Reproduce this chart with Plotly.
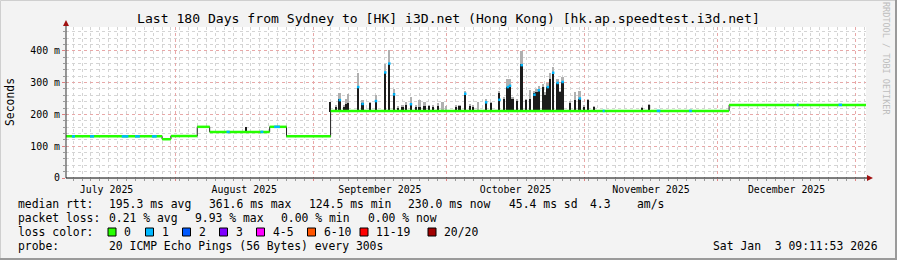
import plotly.graph_objects as go
import pandas as pd

# ---------------- data ----------------
START = "2025-07-07 09:11:53"
END = "2026-01-03 09:11:53"

# median rtt (ms) as steps: value holds from this date until the next one
step_starts = ["2025-07-07 09:11", "2025-07-29 00:00", "2025-07-31 00:00",
               "2025-08-05 22:00", "2025-08-08 17:00", "2025-08-22 05:00",
               "2025-08-26 00:00", "2025-09-04 22:00", "2025-12-03 14:00"]
step_values = [131, 122, 132, 161, 145, 161, 131, 211, 230]

# short stretches of the median drawn with loss colour "1"
blue_starts = ["2025-07-08 17:00", "2025-07-12 19:00", "2025-07-19 22:00", "2025-07-22 22:00",
               "2025-07-26 17:00", "2025-08-12 12:00", "2025-08-20 03:00", "2025-08-23 05:00",
               "2025-11-05 03:00", "2025-11-17 07:00", "2025-11-24 14:00", "2025-12-18 19:00",
               "2025-12-28 05:00"]
blue_ends = ["2025-07-09 10:00", "2025-07-13 17:00", "2025-07-21 10:00", "2025-07-24 00:00",
             "2025-07-27 19:00", "2025-08-13 05:00", "2025-08-20 19:00", "2025-08-24 12:00",
             "2025-11-05 14:00", "2025-11-18 03:00", "2025-11-25 05:00", "2025-12-19 05:00",
             "2025-12-29 00:00"]
blue_values = [131, 131, 131, 131, 131, 145, 145, 161, 211, 211, 211, 230, 230]

# smoke spikes: date, top of dark smoke, top of light smoke, median (loss 1) or None
spike_dates = ["2025-08-17 00:00", "2025-09-04 22:00", "2025-09-06 03:00", "2025-09-07 00:00",
               "2025-09-07 22:00", "2025-09-08 10:00", "2025-09-08 22:00", "2025-09-11 03:00",
               "2025-09-12 03:00", "2025-09-13 22:00", "2025-09-15 03:00", "2025-09-17 05:00",
               "2025-09-18 03:00", "2025-09-19 05:00", "2025-09-20 03:00", "2025-09-21 03:00",
               "2025-09-22 00:00", "2025-09-23 00:00", "2025-09-24 03:00", "2025-09-25 00:00",
               "2025-09-26 03:00", "2025-09-27 03:00", "2025-09-28 00:00", "2025-09-29 03:00",
               "2025-09-30 03:00", "2025-10-01 00:00", "2025-10-03 03:00", "2025-10-04 00:00",
               "2025-10-05 05:00", "2025-10-06 07:00", "2025-10-07 00:00", "2025-10-08 03:00",
               "2025-10-09 22:00", "2025-10-11 00:00", "2025-10-12 22:00", "2025-10-13 22:00",
               "2025-10-14 19:00", "2025-10-15 07:00", "2025-10-15 22:00", "2025-10-16 22:00",
               "2025-10-17 22:00", "2025-10-18 22:00", "2025-10-19 19:00", "2025-10-20 19:00",
               "2025-10-21 07:00", "2025-10-21 19:00", "2025-10-22 17:00", "2025-10-23 07:00",
               "2025-10-23 19:00", "2025-10-24 10:00", "2025-10-25 00:00", "2025-10-26 00:00",
               "2025-10-26 12:00", "2025-10-27 03:00", "2025-10-28 22:00", "2025-10-30 00:00",
               "2025-10-31 00:00", "2025-11-01 00:00", "2025-11-01 23:00", "2025-11-03 05:00",
               "2025-11-14 00:00", "2025-11-15 14:00"]
spike_dark = [160, 239, 224, 247, 224, 232, 235, 286, 237, 235, 245, 334, 362, 266, 220, 224,
              230, 237, 224, 224, 228, 226, 224, 226, 215, 215, 224, 226, 266, 228, 224, 215,
              240, 235, 266, 250, 286, 290, 250, 243, 358, 245, 248, 266, 271, 276, 286, 260,
              286, 310, 331, 299, 270, 302, 237, 245, 250, 224, 245, 224, 220, 229]
spike_light = [160, 239, 230, 266, 230, 250, 265, 330, 245, 240, 260, 358, 404, 280, 226, 230,
               240, 255, 230, 245, 240, 230, 228, 235, 240, 226, 228, 230, 275, 232, 228, 240,
               250, 240, 275, 255, 313, 310, 255, 250, 399, 250, 278, 275, 280, 290, 295, 270,
               300, 330, 350, 310, 275, 318, 240, 270, 275, 228, 250, 226, 222, 232]
spike_median = [None, None, None, 245, None, None, None, 286, 233, None, 242, 332, 360, 263, None,
                None, None, 232, None, None, None, None, None, None, None, None, None, None, 265,
                None, None, None, 238, None, 246, None, 286, 290, None, None, 355, None, None, 262,
                None, 276, None, None, 286, None, 331, 299, None, 302, None, None, 250, None, None,
                None, None, None]

y_tickvals = [0, 100, 200, 300, 400]
y_ticktext = ["0", "100 m", "200 m", "300 m", "400 m"]

loss_labels = ["0", "1", "2", "3", "4-5", "6-10", "11-19", "20/20"]
loss_colors = ["#26ff00", "#00b8ff", "#0059ff", "#7e00ff", "#ff00ff", "#ff5500", "#ff0000", "#a10000"]

stats_rtt = ["195.3 ms avg", "361.6 ms max", "124.5 ms min", "230.0 ms now", "45.4 ms sd", "4.3", "am/s"]
stats_loss = ["0.21 % avg", "9.93 % max", "0.00 % min", "0.00 % now"]

TITLE = "Last 180 Days from Sydney to [HK] i3D.net (Hong Kong) [hk.ap.speedtest.i3d.net]"
PROBE = "20 ICMP Echo Pings (56 Bytes) every 300s"
STAMP = "Sat Jan  3 09:11:53 2026"

# ---------------- geometry helpers (pixels -> paper) ----------------
W, H = 897, 260
PL, PR, PT, PB = 66, 866, 27, 178


def px(x):
    return (x - PL) / (PR - PL)


def py(y):
    return (PB - y) / (PB - PT)


MONO = "DejaVu Sans Mono"

fig = go.Figure()

steps = pd.to_datetime(step_starts)
end_ts = pd.Timestamp(END)

# step connectors (smoke at transitions) in black
cx, cy = [], []
for i in range(len(steps)):
    cx.append(steps[i]); cy.append(step_values[i])
    nxt = steps[i + 1] if i + 1 < len(steps) else end_ts
    cx.append(nxt); cy.append(step_values[i])
fig.add_trace(go.Scatter(x=cx, y=cy, mode="lines", line=dict(color="#222222", width=1),
                         hoverinfo="skip", showlegend=False))

# spike smoke
sd = pd.to_datetime(spike_dates)


def median_at(t):
    v = step_values[0]
    for s, val in zip(steps, step_values):
        if t >= s:
            v = val
    return v


bases = [median_at(t) - 3 for t in sd]
bw = 0.4 * 86400000
fig.add_trace(go.Bar(x=sd, y=[l - d for l, d in zip(spike_light, spike_dark)], base=spike_dark,
                     width=bw, marker=dict(color="#b0b0b0", line=dict(width=0)),
                     hoverinfo="skip", showlegend=False))
fig.add_trace(go.Bar(x=sd, y=[d - b for d, b in zip(spike_dark, bases)], base=bases,
                     width=bw, marker=dict(color="#1c1c1c", line=dict(width=0)),
                     hoverinfo="skip", showlegend=False))

# median green horizontal segments
gx, gy = [], []
for i in range(len(steps)):
    nxt = steps[i + 1] if i + 1 < len(steps) else end_ts
    gx += [steps[i], nxt, None]
    gy += [step_values[i], step_values[i], None]
fig.add_trace(go.Scatter(x=gx, y=gy, mode="lines", line=dict(color=loss_colors[0], width=2.5),
                         hoverinfo="skip", showlegend=False))

# blue stretches
bx, by = [], []
for s, e, v in zip(blue_starts, blue_ends, blue_values):
    bx += [pd.Timestamp(s), pd.Timestamp(e), None]
    by += [v, v, None]
fig.add_trace(go.Scatter(x=bx, y=by, mode="lines", line=dict(color=loss_colors[1], width=2.5),
                         hoverinfo="skip", showlegend=False))

# spike medians
mx = [t for t, m in zip(sd, spike_median) if m is not None]
my = [m for m in spike_median if m is not None]
fig.add_trace(go.Scatter(x=mx, y=my, mode="markers",
                         marker=dict(color=loss_colors[1], symbol="square", size=2.5, line=dict(width=0)),
                         hoverinfo="skip", showlegend=False))

# ---------------- layout ----------------
ann = []


def text(x, y, s, size=11.4, anchor="left", color="#000000", angle=0):
    ann.append(dict(xref="paper", yref="paper", x=px(x), y=py(y), text=s, showarrow=False,
                    xanchor=anchor, yanchor="middle", textangle=angle,
                    font=dict(family=MONO, size=size, color=color)))


text(448, 19, TITLE, size=13.1, anchor="center")
text(10, 102, "Seconds", size=11.4, anchor="center", angle=-90)
text(886, 59, "RRDTOOL / TOBI OETIKER", size=8.5, anchor="center", color="#bdbdbd", angle=90)

row1, row2, row3, row4 = 204, 218, 232, 246
text(16, row1, "median rtt:")
for s, x in zip(stats_rtt, [107, 207, 307, 406, 507, 588, 635]):
    text(x, row1, s)
text(16, row2, "packet loss:")
for s, x in zip(stats_loss, [107, 193, 279, 366]):
    text(x, row2, s)
text(16, row3, "loss color:")
shapes = []
box_x = [108, 145.5, 182.5, 219.5, 256.5, 307.5, 360, 428]
for lab, col, x in zip(loss_labels, loss_colors, box_x):
    shapes.append(dict(type="rect", xref="paper", yref="paper", x0=px(x), x1=px(x + 8),
                       y0=py(row3 + 4), y1=py(row3 - 4), fillcolor=col,
                       line=dict(color="#000000", width=1)))
    text(x + 14, row3, lab)
text(16, row4, "probe:")
text(107, row4, PROBE)
text(880, row4, STAMP, anchor="right")

# axis arrows
shapes.append(dict(type="path", xref="paper", yref="paper",
                   path=f"M {px(63)} {py(26)} L {px(69)} {py(26)} L {px(66)} {py(20)} Z",
                   fillcolor="#a01010", line=dict(width=0)))
shapes.append(dict(type="line", xref="paper", yref="paper", x0=px(66), x1=px(66), y0=py(178), y1=py(26),
                   line=dict(color="#333333", width=1)))
shapes.append(dict(type="line", xref="paper", yref="paper", x0=px(66), x1=px(868), y0=py(178), y1=py(178),
                   line=dict(color="#000000", width=1)))
shapes.append(dict(type="path", xref="paper", yref="paper",
                   path=f"M {px(867)} {py(175)} L {px(867)} {py(181)} L {px(873)} {py(178)} Z",
                   fillcolor="#a01010", line=dict(width=0)))
# frame
shapes.append(dict(type="rect", xref="paper", yref="paper", x0=px(0.5), x1=px(896), y0=py(259), y1=py(0.5),
                   line=dict(color="#cfcfcf", width=1), fillcolor="rgba(0,0,0,0)", layer="below"))
shapes.append(dict(type="line", xref="paper", yref="paper", x0=px(896), x1=px(896), y0=py(0), y1=py(260),
                   line=dict(color="#9a9a9a", width=2)))
shapes.append(dict(type="line", xref="paper", yref="paper", x0=px(0), x1=px(897), y0=py(259), y1=py(259),
                   line=dict(color="#9a9a9a", width=2)))

fig.update_layout(
    width=W, height=H,
    margin=dict(l=PL, r=W - PR, t=PT, b=H - PB),
    paper_bgcolor="#f3f3f3", plot_bgcolor="#ffffff",
    barmode="overlay", bargap=0,
    showlegend=False,
    annotations=ann, shapes=shapes,
    font=dict(family=MONO, color="#000000"),
    xaxis=dict(type="date", range=[START, END], dtick="M1", tick0="2025-07-01",
               ticklabelmode="period", tickformat="%B %Y",
               tickfont=dict(family=MONO, size=9.9, color="#000000"),
               showgrid=True, gridcolor="#e8a8a8", griddash="dot", gridwidth=1,
               ticks="outside", ticklen=2, tickcolor="#e08080",
               minor=dict(dtick=2 * 86400000, tick0="2025-07-01", showgrid=True,
                          gridcolor="#d4d4d4", griddash="dot", ticks="outside", ticklen=2,
                          tickcolor="#999999"),
               showline=False, zeroline=False, fixedrange=True),
    yaxis=dict(range=[0, 475], tickvals=y_tickvals, ticktext=y_ticktext,
               tickfont=dict(family=MONO, size=9.9, color="#000000"),
               showgrid=True, gridcolor="#e8a8a8", griddash="dot", gridwidth=1,
               ticks="outside", ticklen=3, tickcolor="#e08080",
               minor=dict(dtick=20, showgrid=True, gridcolor="#d4d4d4", griddash="dot",
                          ticks="outside", ticklen=2, tickcolor="#999999"),
               showline=False, zeroline=False, fixedrange=True),
)

fig.write_html("out.html")
